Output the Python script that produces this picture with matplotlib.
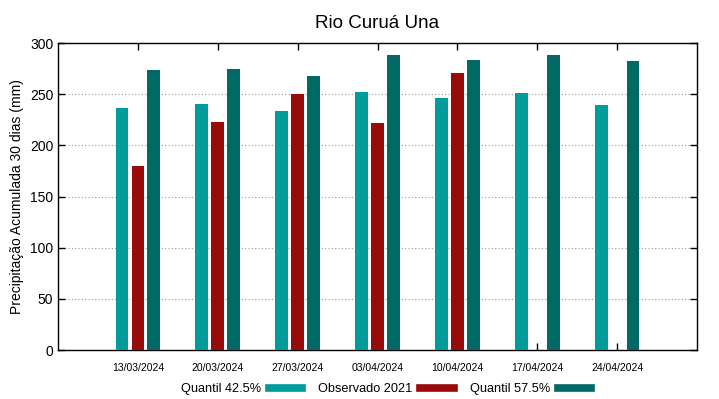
import numpy as np
import matplotlib.pyplot as plt
from matplotlib.lines import Line2D

plt.rcParams['font.family'] = ['Liberation Sans', 'DejaVu Sans']

# datas e valores (mm)
datas = ["13/03/2024", "20/03/2024", "27/03/2024", "03/04/2024",
         "10/04/2024", "17/04/2024", "24/04/2024"]
quantil_425 = [236.5, 240.5, 233.5, 252, 246, 251, 239.5]
observado_2021 = [180, 222.5, 250, 221.5, 270.5, np.nan, np.nan]
quantil_575 = [274, 274.5, 268, 288, 283.5, 288.5, 282.5]

cor_q1 = "#009b9b"
cor_obs = "#990a0a"
cor_q2 = "#006865"

fig = plt.figure(figsize=(7.19, 3.99), dpi=100)
ax = fig.add_axes([0.0807, 0.1228, 0.8887, 0.7694])

x = np.arange(len(datas))
larg = 0.16
ax.bar(x - 0.2, quantil_425, larg, color=cor_q1, zorder=3)
ax.bar(x, observado_2021, larg, color=cor_obs, zorder=3)
ax.bar(x + 0.2, quantil_575, larg, color=cor_q2, zorder=3)

ax.set_xlim(-1, 7)
ax.set_ylim(0, 300)
ax.set_yticks(range(0, 301, 50))
ax.set_xticks(x)
ax.set_xticklabels(datas, fontsize=7.5)
ax.tick_params(axis='y', labelsize=10)
ax.tick_params(direction='in', top=True, right=True, length=5, width=1)
ax.tick_params(axis='x', pad=9)
ax.yaxis.grid(True, linestyle=(0, (1, 2)), color='#999999', linewidth=0.8, zorder=0)
for s in ax.spines.values():
    s.set_linewidth(1)

ax.set_ylabel("Precipitação Acumulada 30 dias (mm)", fontsize=10)
ax.set_title("Rio Curuá Una", fontsize=13.5, pad=11)

# legenda estilo gnuplot (texto antes da amostra)
itens = [Line2D([], [], color=cor_q1, lw=5.5),
         Line2D([], [], color=cor_obs, lw=5.5),
         Line2D([], [], color=cor_q2, lw=5.5)]
nomes = ["Quantil 42.5%", "Observado 2021", "Quantil 57.5%"]
fig.legend(itens, nomes, loc='center', bbox_to_anchor=(0.537, 0.024), ncol=3,
           frameon=False, markerfirst=False, handlelength=2.6, columnspacing=1.3,
           handletextpad=0.6, fontsize=9.2)

plt.savefig("out.png", dpi=100)
